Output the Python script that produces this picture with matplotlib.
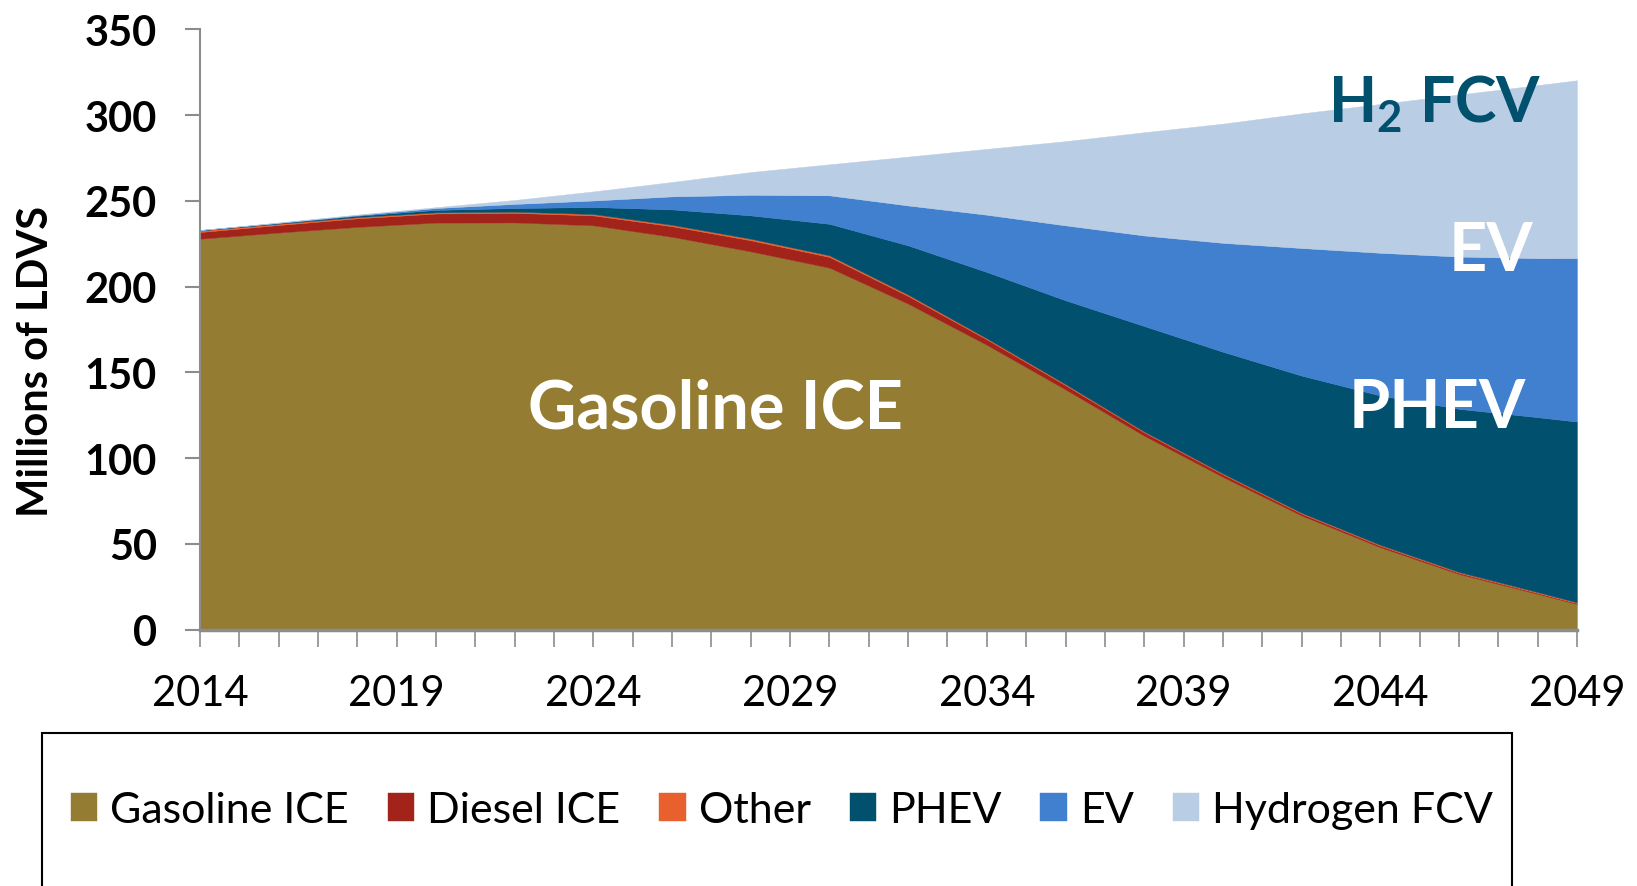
import numpy as np
import matplotlib
matplotlib.use("Agg")
import matplotlib.pyplot as plt
from matplotlib.patches import Rectangle
from matplotlib.ticker import MultipleLocator

plt.rcParams['font.family'] = ['Lato', 'DejaVu Sans']
plt.rcParams['mathtext.fontset'] = 'custom'
plt.rcParams['mathtext.rm'] = 'Lato:bold'

# Data (millions of light duty vehicles)
years = [2014, 2016, 2018, 2020, 2022, 2024, 2026, 2028, 2030, 2032,
         2034, 2036, 2038, 2040, 2042, 2044, 2046, 2048, 2049]
gasoline = [227.9, 231.5, 234.8, 237.3, 237.4, 235.7, 229.0, 220.5, 211.0, 190.0,
            166.0, 140.0, 113.0, 89.0, 66.5, 48.0, 32.4, 20.8, 14.9]
diesel = [3.9, 4.4, 5.0, 5.3, 5.6, 5.8, 6.2, 6.5, 6.3, 4.5,
          3.2, 2.5, 2.0, 1.5, 1.1, 0.9, 0.7, 0.55, 0.5]
other = [0.9, 0.8, 0.7, 0.7, 0.7, 0.8, 0.8, 0.9, 0.9, 0.8,
         0.6, 0.6, 0.5, 0.5, 0.5, 0.5, 0.5, 0.5, 0.5]
phev = [0.2, 0.3, 0.8, 1.4, 2.1, 4.1, 9.0, 13.6, 18.4, 28.7,
        38.7, 48.9, 61.5, 71.0, 80.0, 87.1, 95.1, 102.0, 105.4]
ev = [0.1, 0.2, 0.4, 1.1, 2.4, 3.8, 7.6, 12.0, 16.6, 23.3,
      33.4, 43.7, 52.8, 63.5, 74.4, 83.2, 88.8, 92.7, 95.3]
h2 = [0.0, 0.2, 0.3, 0.5, 2.3, 5.3, 8.4, 13.3, 18.1, 28.5,
      38.4, 49.1, 60.2, 69.5, 78.5, 86.8, 94.5, 100.9, 103.7]

labels = ['Gasoline ICE', 'Diesel ICE', 'Other', 'PHEV', 'EV', 'Hydrogen FCV']
colors = ['#947C33', '#A2231A', '#E8602E', '#00506E', '#4080CF', '#B9CDE5']

fig = plt.figure(figsize=(16.37, 8.87), dpi=100)
ax = fig.add_axes([0.1222, 0.2891, 0.8411, 0.6767])

polys = ax.stackplot(years, gasoline, diesel, other, phev, ev, h2,
                     colors=colors, labels=labels, lw=0)
for p in polys:
    p.set_edgecolor('face')
    p.set_linewidth(0.3)

ax.set_xlim(2014, 2049)
ax.set_ylim(0, 350)
ax.set_xticks(range(2014, 2050, 5))
ax.set_xticks(range(2014, 2050), minor=True)
ax.yaxis.set_major_locator(MultipleLocator(50))

for s in ['top', 'right']:
    ax.spines[s].set_visible(False)
ax.spines['left'].set_color('#8c8c8c')
ax.spines['left'].set_linewidth(1.5)
ax.spines['bottom'].set_color('#8c8c8c')
ax.spines['bottom'].set_linewidth(2.5)

ax.tick_params(axis='x', which='both', direction='out', length=12, width=1.2,
               color='#8c8c8c', labelsize=30, pad=20)
ax.tick_params(axis='y', direction='out', length=11, width=1.5,
               color='#8c8c8c', labelsize=30, pad=20)
for t in ax.get_yticklabels():
    t.set_fontweight('bold')

ax.set_ylabel('Millions of LDVS', fontsize=30, fontweight='bold')
ax.yaxis.set_label_coords(-0.105, 0.449)

# in-chart labels
ax.text(2027.1, 129, 'Gasoline ICE', color='white', fontsize=48,
        fontweight='bold', ha='center', va='center')
ax.text(2047.7, 129, 'PHEV', color='white', fontsize=48,
        fontweight='bold', ha='right', va='center')
ax.text(2047.9, 221, 'EV', color='white', fontsize=48,
        fontweight='bold', ha='right', va='center')
ax.text(2048.1, 307, r'H$_{\mathrm{2}}$ FCV', color='#00506E', fontsize=45,
        fontweight='bold', ha='right', va='center')

# legend box
fig.patches.append(Rectangle((42 / 1637, -0.1), (1512 - 42) / 1637,
                             (887 - 734) / 887 + 0.1,
                             transform=fig.transFigure, fill=False,
                             ec='black', lw=1.5))
fig.legend(loc='center', bbox_to_anchor=(782 / 1637, 1 - 811 / 887),
           ncol=6, frameon=False, fontsize=31, handlelength=0.62,
           handleheight=0.62, handletextpad=0.3, columnspacing=0.9)

fig.savefig('out.png', dpi=100)
